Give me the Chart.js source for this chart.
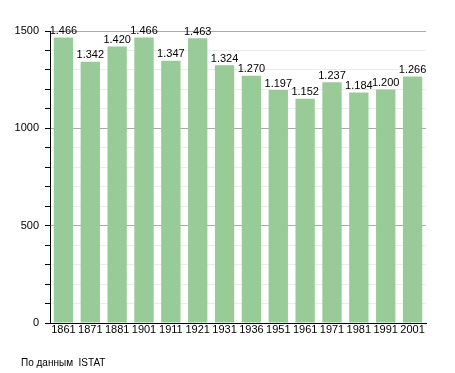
<!doctype html>
<html lang="ru">
  <head>
    <meta charset="UTF-8" />
    <title>Население</title>
    <script src="https://cdn.jsdelivr.net/npm/chart.js"></script>
    <style>
      html, body { margin: 0; padding: 0; background: #fff; }
      #wrap { position: relative; width: 455px; height: 373px; }
      #note {
        position: absolute; left: 21px; top: 357px;
        font: 10px "Liberation Sans", Arial, sans-serif; color: #000;
      }
    </style>
  </head>
  <body>
    <div id="wrap">
      <canvas id="popChart" width="455" height="373"></canvas>
      <div id="note">По данным&nbsp; ISTAT</div>
    </div>
    <script>
      var years = ["1861", "1871", "1881", "1901", "1911", "1921", "1931", "1936", "1951", "1961", "1971", "1981", "1991", "2001"];
      var population = [1466, 1342, 1420, 1466, 1347, 1463, 1324, 1270, 1197, 1152, 1237, 1184, 1200, 1266];
      var yMax = 1500;

      // value above each bar, italian style "1.466"
      var valueLabels = {
        id: "valueLabels",
        afterDatasetsDraw: function (chart) {
          var ctx = chart.ctx;
          var meta = chart.getDatasetMeta(0);
          ctx.save();
          ctx.font = '11px "Liberation Sans", Arial, sans-serif';
          ctx.fillStyle = "#000";
          ctx.textAlign = "center";
          ctx.textBaseline = "bottom";
          meta.data.forEach(function (bar, i) {
            var v = population[i];
            var txt = Math.floor(v / 1000) + "." + String(v % 1000).padStart(3, "0");
            ctx.fillText(txt, bar.x, bar.y - 1);
          });
          ctx.restore();
        },
      };

      var ctx1 = document.getElementById("popChart").getContext("2d");
      var popChart = new Chart(ctx1, {
        type: "bar",
        data: {
          labels: years,
          datasets: [
            {
              data: population,
              backgroundColor: "#99cb99",
              borderWidth: 0,
              barPercentage: 0.72,
              categoryPercentage: 1,
            },
          ],
        },
        options: {
          responsive: false,
          animation: false,
          layout: { padding: { top: 31, right: 29, bottom: 30, left: 0 } },
          plugins: { legend: { display: false }, tooltip: { enabled: false } },
          scales: {
            x: {
              grid: { display: false, drawTicks: false },
              border: { color: "#000", width: 1 },
              ticks: {
                color: "#000",
                padding: 0,
                maxRotation: 0,
                autoSkip: false,
                font: { family: '"Liberation Sans", Arial, sans-serif', size: 11 },
              },
              afterFit: function (s) { s.height = 20; },
            },
            y: {
              min: 0,
              max: yMax,
              grid: {
                color: function (c) {
                  return c.tick && c.tick.value % 500 === 0 ? "#aaaaaa" : "#ebebeb";
                },
                tickColor: "#000",
                tickLength: 5,
              },
              border: { color: "#000", width: 1 },
              ticks: {
                stepSize: 100,
                color: "#000",
                padding: 6,
                font: { family: '"Liberation Sans", Arial, sans-serif', size: 11 },
                callback: function (v) { return v % 500 === 0 ? v : ""; },
              },
              afterFit: function (s) { s.width = 50; },
            },
          },
        },
        plugins: [valueLabels],
      });
    </script>
  </body>
</html>
